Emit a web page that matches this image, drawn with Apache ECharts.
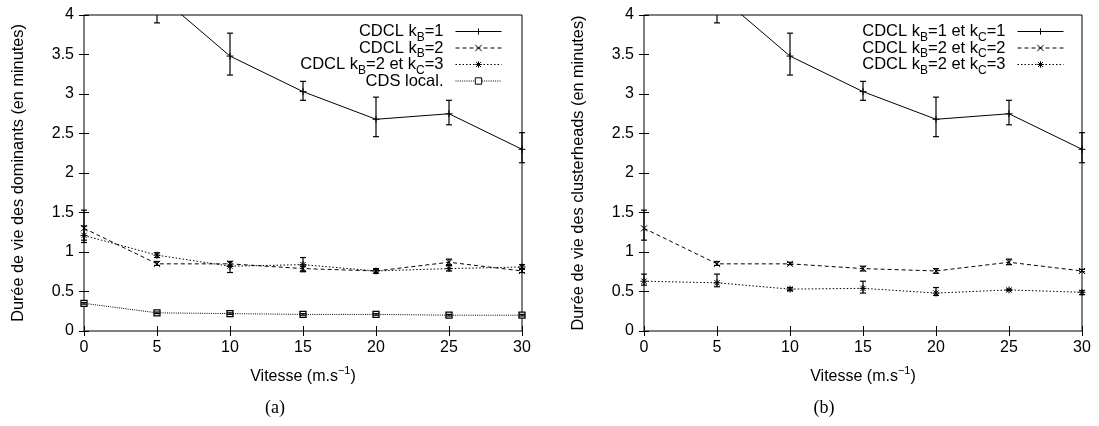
<!DOCTYPE html>
<html><head><meta charset="utf-8">
<script src="https://cdn.jsdelivr.net/npm/echarts@6/dist/echarts.min.js"></script>
<style>html,body{margin:0;padding:0;background:#fff}#c{width:1099px;height:426px}</style>
</head><body><div id="c"></div>
<script>
// ---- data ----
const speeds = [0, 5, 10, 15, 20, 25, 30];
const yMin = 0, yMax = 4;
// (a) durée de vie des dominants
const a_kb1   = [5.20, 4.27, 3.48, 3.03, 2.68, 2.75, 2.30];
const a_kb1Lo = [4.90, 3.90, 3.24, 2.92, 2.46, 2.61, 2.13];
const a_kb1Hi = [5.60, 4.60, 3.77, 3.16, 2.96, 2.92, 2.51];
const a_kb2   = [1.30, 0.85, 0.85, 0.79, 0.76, 0.87, 0.76];
const a_kb2Lo = [1.15, 0.83, 0.82, 0.75, 0.73, 0.84, 0.74];
const a_kb2Hi = [1.53, 0.88, 0.88, 0.82, 0.79, 0.91, 0.78];
const a_kc3   = [1.21, 0.96, 0.82, 0.84, 0.76, 0.79, 0.81];
const a_kc3Lo = [1.12, 0.93, 0.74, 0.76, 0.73, 0.76, 0.78];
const a_kc3Hi = [1.33, 0.99, 0.88, 0.93, 0.78, 0.83, 0.84];
const a_cds   = [0.35, 0.23, 0.22, 0.21, 0.21, 0.20, 0.20];
const a_cdsLo = [0.34, 0.22, 0.21, 0.20, 0.20, 0.19, 0.19];
const a_cdsHi = [0.36, 0.24, 0.23, 0.22, 0.22, 0.21, 0.21];
// (b) durée de vie des clusterheads
const b_k11   = [5.20, 4.27, 3.48, 3.03, 2.68, 2.75, 2.30];
const b_k11Lo = [4.90, 3.90, 3.24, 2.92, 2.46, 2.61, 2.13];
const b_k11Hi = [5.60, 4.60, 3.77, 3.16, 2.96, 2.92, 2.51];
const b_k22   = [1.30, 0.85, 0.85, 0.79, 0.76, 0.87, 0.76];
const b_k22Lo = [1.15, 0.83, 0.84, 0.76, 0.73, 0.84, 0.75];
const b_k22Hi = [1.53, 0.88, 0.87, 0.82, 0.79, 0.91, 0.78];
const b_k23   = [0.63, 0.61, 0.53, 0.54, 0.48, 0.52, 0.49];
const b_k23Lo = [0.58, 0.56, 0.51, 0.48, 0.45, 0.51, 0.46];
const b_k23Hi = [0.72, 0.72, 0.55, 0.63, 0.55, 0.53, 0.51];
// labels
const a_names = ['CDCL kB=1', 'CDCL kB=2', 'CDCL kB=2 et kC=3', 'CDS local.'];
const a_labels = ['CDCL k{s|B}=1', 'CDCL k{s|B}=2', 'CDCL k{s|B}=2 et k{s|C}=3', 'CDS local.'];
const b_names = ['CDCL kB=1 et kC=1', 'CDCL kB=2 et kC=2', 'CDCL kB=2 et kC=3'];
const b_labels = ['CDCL k{s|B}=1 et k{s|C}=1', 'CDCL k{s|B}=2 et k{s|C}=2', 'CDCL k{s|B}=2 et k{s|C}=3'];
const xName = '{m|Vitesse (m.s}{p|−1}{m|)}';
const a_yName = 'Durée de vie des dominants (en minutes)';
const b_yName = 'Durée de vie des clusterheads (en minutes)';
const captions = ['(a)', '(b)'];

// ---- chart ----
const FONT = '"Liberation Sans", Arial, Helvetica, sans-serif';
const FS = 16;
const labelMap = {};
a_names.forEach((n, i) => labelMap[n] = a_labels[i]);
b_names.forEach((n, i) => labelMap[n] = b_labels[i]);

const SYM = {
  plus: 'path://M0,4L8,4M4,0L4,8',
  cross: 'path://M0,0L8,8M8,0L0,8',
  star: 'path://M0,4L8,4M4,0L4,8M1,1L7,7M7,1L1,7',
  square: 'rect'
};
const DASH = { solid: 'solid', dashed: [4, 3], dotted: [1.5, 2], dotted2: [1, 1.2] };

function zip(v) { return speeds.map((x, i) => [x, v[i]]); }
function errData(lo, hi) { return speeds.map((x, i) => [x, lo[i], hi[i]]); }

function lineSeries(name, vals, sym, dash, xi, yi) {
  const isSq = sym === 'square';
  return {
    type: 'line', name, data: zip(vals), xAxisIndex: xi, yAxisIndex: yi,
    symbol: SYM[sym], symbolSize: isSq ? 6 : (sym === 'cross' ? 6 : 7),
    showAllSymbol: true, clip: true, silent: true,
    lineStyle: { color: '#000', width: 1, type: DASH[dash] },
    itemStyle: { color: isSq ? '#fff' : '#000', borderColor: '#000', borderWidth: isSq ? 1.3 : 1 },
    emphasis: { disabled: true }, z: 3
  };
}
function renderErr(params, api) {
  const x = api.value(0), lo = api.value(1), hi = api.value(2);
  if (lo > yMax || hi < yMin) return;
  const l = Math.max(lo, yMin), h = Math.min(hi, yMax);
  const pL = api.coord([x, l]), pH = api.coord([x, h]);
  const st = { stroke: '#000', lineWidth: 1.2 };
  const w = 3;
  const ch = [{ type: 'line', shape: { x1: pL[0], y1: pL[1], x2: pH[0], y2: pH[1] }, style: st }];
  if (lo >= yMin && lo <= yMax) ch.push({ type: 'line', shape: { x1: pL[0] - w, y1: pL[1], x2: pL[0] + w, y2: pL[1] }, style: st });
  if (hi >= yMin && hi <= yMax) ch.push({ type: 'line', shape: { x1: pH[0] - w, y1: pH[1], x2: pH[0] + w, y2: pH[1] }, style: st });
  return { type: 'group', children: ch };
}
function errSeries(lo, hi, xi, yi) {
  return { type: 'custom', data: errData(lo, hi), xAxisIndex: xi, yAxisIndex: yi,
    renderItem: renderErr, silent: true, z: 4, encode: { x: 0, y: [1, 2] } };
}

const grids = [
  { left: 84, top: 15, width: 438, height: 316, show: true, borderColor: '#000', borderWidth: 1, backgroundColor: 'transparent' },
  { left: 644, top: 15, width: 438, height: 316, show: true, borderColor: '#000', borderWidth: 1, backgroundColor: 'transparent' }
];
const tickStyle = { inside: true, length: 5, lineStyle: { color: '#000', width: 1 } };
const axLbl = { color: '#000', fontSize: FS, fontFamily: FONT };

function xAxes(g) {
  return [
    { type: 'value', gridIndex: g, min: 0, max: 30, interval: 5, position: 'bottom',
      axisLine: { show: false }, axisTick: tickStyle, splitLine: { show: false },
      axisLabel: Object.assign({ margin: 9 }, axLbl),
      name: xName, nameLocation: 'middle', nameGap: 34,
      nameTextStyle: { color: '#000', fontSize: FS, fontFamily: FONT,
        rich: {
          m: { fontSize: FS, fontFamily: FONT, color: '#000', lineHeight: 24, verticalAlign: 'middle' },
          p: { fontSize: 11, fontFamily: FONT, color: '#000', lineHeight: 12, verticalAlign: 'top' }
        } } },
    { type: 'value', gridIndex: g, min: 0, max: 30, interval: 5, position: 'top',
      axisLine: { show: false }, axisTick: tickStyle, splitLine: { show: false }, axisLabel: { show: false } }
  ];
}
function yAxes(g, name) {
  return [
    { type: 'value', gridIndex: g, min: yMin, max: yMax, interval: 0.5, position: 'left',
      axisLine: { show: false }, axisTick: tickStyle, splitLine: { show: false },
      axisLabel: Object.assign({ margin: 10 }, axLbl),
      name, nameLocation: 'middle', nameGap: 57, nameRotate: 90,
      nameTextStyle: { color: '#000', fontSize: 16.3, fontFamily: FONT } },
    { type: 'value', gridIndex: g, min: yMin, max: yMax, interval: 0.5, position: 'right',
      axisLine: { show: false }, axisTick: tickStyle, splitLine: { show: false }, axisLabel: { show: false } }
  ];
}
function legend(names, right) {
  return {
    data: names, orient: 'vertical', align: 'right', right, top: 23, padding: 0,
    itemWidth: 46, itemHeight: 8, itemGap: -4, selectedMode: false,
    formatter: n => labelMap[n],
    lineStyle: { width: 1, color: '#000' },
    itemStyle: { borderWidth: 1 },
    textStyle: { color: '#000', fontSize: 16.5, fontFamily: FONT, lineHeight: 16, padding: [0, 7, 0, 0],
      rich: { s: { fontSize: 12, fontFamily: FONT, color: '#000', verticalAlign: 'bottom', lineHeight: 12, padding: [0, 0, -4, 0] } } }
  };
}

const option = {
  animation: false,
  backgroundColor: '#fff',
  grid: grids,
  xAxis: [...xAxes(0), ...xAxes(1)],
  yAxis: [...yAxes(0, a_yName), ...yAxes(1, b_yName)],
  legend: [legend(a_names, 1099 - 502), legend(b_names, 1099 - 1064)],
  series: [
    lineSeries(a_names[0], a_kb1, 'plus', 'solid', 0, 0),
    lineSeries(a_names[1], a_kb2, 'cross', 'dashed', 0, 0),
    lineSeries(a_names[2], a_kc3, 'star', 'dotted', 0, 0),
    lineSeries(a_names[3], a_cds, 'square', 'dotted2', 0, 0),
    errSeries(a_kb1Lo, a_kb1Hi, 0, 0),
    errSeries(a_kb2Lo, a_kb2Hi, 0, 0),
    errSeries(a_kc3Lo, a_kc3Hi, 0, 0),
    errSeries(a_cdsLo, a_cdsHi, 0, 0),
    lineSeries(b_names[0], b_k11, 'plus', 'solid', 2, 2),
    lineSeries(b_names[1], b_k22, 'cross', 'dashed', 2, 2),
    lineSeries(b_names[2], b_k23, 'star', 'dotted', 2, 2),
    errSeries(b_k11Lo, b_k11Hi, 2, 2),
    errSeries(b_k22Lo, b_k22Hi, 2, 2),
    errSeries(b_k23Lo, b_k23Hi, 2, 2)
  ],
  graphic: [
    { type: 'text', x: 275, y: 408, style: { text: captions[0], align: 'center', verticalAlign: 'middle', font: '18px "Liberation Serif", "Times New Roman", serif', fill: '#000' } },
    { type: 'text', x: 824, y: 408, style: { text: captions[1], align: 'center', verticalAlign: 'middle', font: '18px "Liberation Serif", "Times New Roman", serif', fill: '#000' } }
  ]
};
const chart = echarts.init(document.getElementById('c'), null, { renderer: 'canvas' });
chart.setOption(option);
</script>
</body></html>
